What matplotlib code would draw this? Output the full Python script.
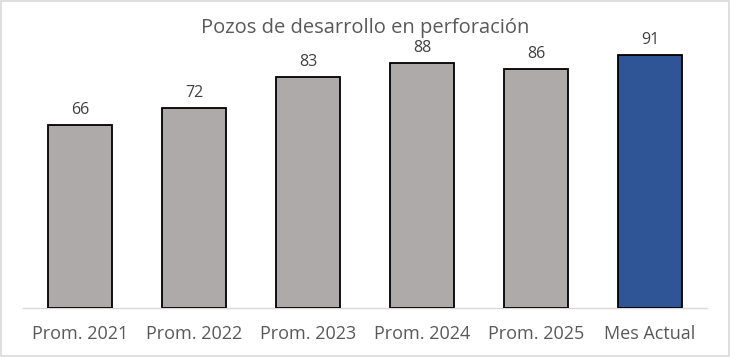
import matplotlib
matplotlib.use("Agg")
import matplotlib.pyplot as plt
from matplotlib.patches import Rectangle

categories = ["Prom. 2021", "Prom. 2022", "Prom. 2023", "Prom. 2024", "Prom. 2025", "Mes Actual"]
values = [66, 72, 83, 88, 86, 91]
colors = ["#AEAAAA"] * 5 + ["#2F5597"]
title = "Pozos de desarrollo en perforación"

plt.rcParams['font.family'] = ['Open Sans', 'DejaVu Sans']

W, H = 730, 357
fig = plt.figure(figsize=(W / 100, H / 100), dpi=100)
ax = fig.add_axes([23 / W, 1 - 308 / H, 684 / W, (308 - 30) / H])

x = range(len(categories))
bars = ax.bar(x, values, width=0.57, color=colors, edgecolor="black", linewidth=1.3, zorder=3)
for xi, v in zip(x, values):
    ax.annotate(str(v), (xi, v), xytext=(0, 5), textcoords="offset points",
                ha="center", va="bottom", fontsize=11.5, color="#404040")

ax.set_xlim(-0.5, len(categories) - 0.5)
ax.set_ylim(0, 100)
ax.set_xticks(list(x))
ax.set_xticklabels(categories, fontsize=13, color="#595959")
ax.tick_params(axis="x", length=0, pad=12)
ax.set_yticks([])
for s in ["top", "right", "left"]:
    ax.spines[s].set_visible(False)
ax.spines["bottom"].set_color("#D9D9D9")
ax.spines["bottom"].set_linewidth(1.0)

fig.text(0.5, 1 - 33 / H, title, ha="center", va="baseline", fontsize=14.5, color="#595959")

fig.patches.append(Rectangle((0.001, 0.002), 0.997, 0.995, transform=fig.transFigure,
                             fill=False, edgecolor="#D9D9D9", linewidth=1.2))

fig.savefig("out.png", dpi=100)
